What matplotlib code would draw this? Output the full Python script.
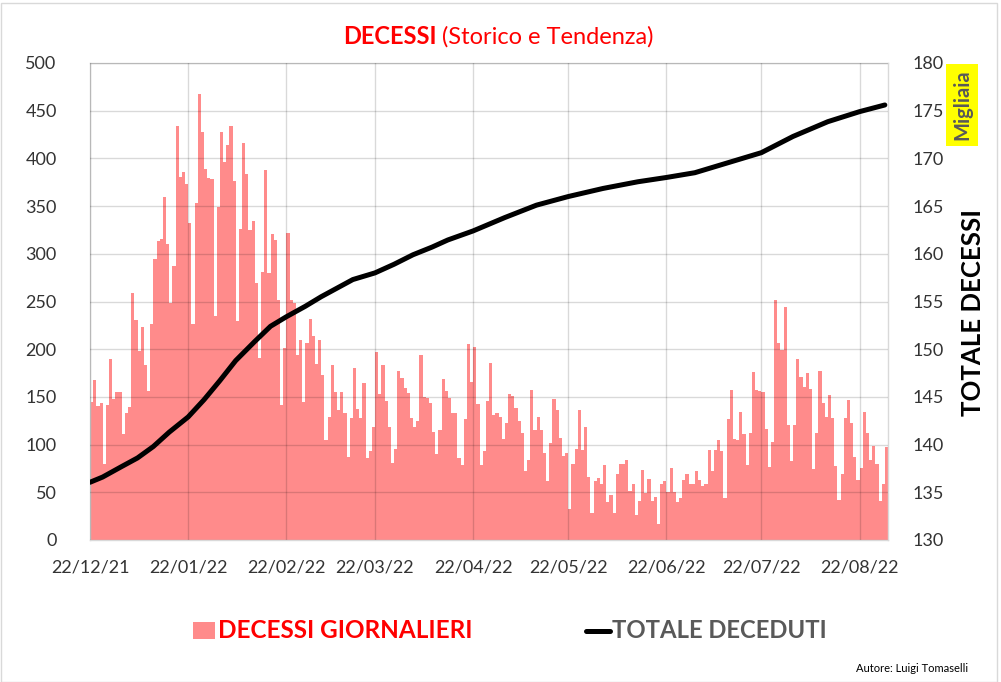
import matplotlib
matplotlib.use("Agg")
import matplotlib.pyplot as plt
import matplotlib.dates as mdates
import matplotlib.patches as mpatches
from matplotlib.lines import Line2D
import pandas as pd
import numpy as np

# ---------------- data ----------------
start_date = "2021-12-22"

daily_deaths = [
    # 22/12/21 ->
    145, 168, 140, 144, 80, 142, 190, 148, 155, 155, 111, 133, 139, 259, 231, 198, 223, 183, 156, 226,
    295, 313, 316, 360, 310, 248, 287, 434, 381, 386, 373, 332, 226, 353, 468, 428, 389, 379, 378, 235,
    349, 428,
    396, 414, 434, 376, 230, 326, 416, 384, 325, 334, 269, 191, 281, 388, 280, 321, 314, 252, 141, 201,
    322, 252, 248, 194, 210, 145, 207, 232, 214, 185, 210, 173, 105, 129, 183, 155, 136, 155, 133, 87,
    128, 180,
    137, 128, 165, 86, 93, 118, 197, 153, 183, 146, 118, 81, 95, 177, 170, 159, 154, 128, 118, 125,
    194, 150, 149, 144, 113, 90, 115, 169, 156, 149, 133, 133, 86, 79, 127, 205, 166, 202, 143, 79,
    93, 146, 186,
    131, 133, 129, 106, 123, 153, 151, 138, 125, 112, 72, 84, 157, 115, 129, 115, 91, 62, 102, 148,
    136, 107, 88, 91, 33, 80, 95, 136, 94, 118, 66, 28, 62, 65, 59, 79, 40, 47, 28, 69, 80,
    80, 84, 51, 59, 26, 41, 73, 49, 64, 41, 45, 17, 59, 62, 50, 75, 50, 40, 44, 63,
    69, 59, 59, 72, 63, 57, 59, 94, 72, 94, 105, 93, 44, 127, 157, 106, 105, 134, 111, 79,
    112, 176, 157,
    156, 155, 116, 77, 103, 252, 207, 199, 244, 121, 83, 121, 190, 171, 160, 175, 158, 74, 112, 177,
    144, 129, 152, 128, 78, 42, 69, 128, 147, 123, 87, 63, 75, 134, 112, 84, 99, 80, 41, 59, 97,
]

# cumulative total (thousands)
total_dates = [
    "2021-12-22", "2021-12-26", "2022-01-01", "2022-01-06", "2022-01-11", "2022-01-16", "2022-01-22",
    "2022-01-27", "2022-02-01", "2022-02-06", "2022-02-12", "2022-02-17", "2022-02-22", "2022-02-28",
    "2022-03-05", "2022-03-10", "2022-03-15", "2022-03-22", "2022-03-28", "2022-04-03", "2022-04-09",
    "2022-04-14", "2022-04-22", "2022-05-02", "2022-05-12", "2022-05-22", "2022-06-02", "2022-06-13",
    "2022-06-22", "2022-07-01", "2022-07-11", "2022-07-22", "2022-08-01", "2022-08-12", "2022-08-22",
    "2022-08-30",
]
total_values = [
    136.05, 136.6, 137.7, 138.6, 139.8, 141.3, 142.9,
    144.7, 146.7, 148.8, 150.8, 152.4, 153.4, 154.5,
    155.5, 156.4, 157.3, 158.0, 158.9, 159.9, 160.7,
    161.45, 162.4, 163.8, 165.1, 166.0, 166.85, 167.55,
    168.0, 168.5, 169.5, 170.6, 172.3, 173.85, 174.9,
    175.6,
]

tick_dates = ["2021-12-22", "2022-01-22", "2022-02-22", "2022-03-22", "2022-04-22",
              "2022-05-22", "2022-06-22", "2022-07-22", "2022-08-22"]
left_ticks = [0, 50, 100, 150, 200, 250, 300, 350, 400, 450, 500]
right_ticks = [130, 135, 140, 145, 150, 155, 160, 165, 170, 175, 180]

# ---------------- style ----------------
BAR_C = "#FF8B8B"
TXT_C = "#333333"
NARROW = ["Liberation Sans Narrow", "Lato", "DejaVu Sans"]
plt.rcParams["font.family"] = ["Lato", "DejaVu Sans"]

fig = plt.figure(figsize=(10.01, 6.82), dpi=100)
W, H = 1001, 682
L, R, T, B = 90, 888, 63, 540
ax = fig.add_axes([L / W, 1 - B / H, (R - L) / W, (B - T) / H])

dates = pd.date_range(start_date, periods=len(daily_deaths), freq="D")
ax.bar(dates, daily_deaths, width=1.0, align="edge", color=BAR_C, linewidth=0, zorder=1)

x0 = mdates.date2num(pd.Timestamp(start_date))
ax.set_xlim(x0, x0 + len(daily_deaths))
ax.set_ylim(0, 500)
ax.set_yticks(left_ticks)
ax.set_xticks(pd.to_datetime(tick_dates))
ax.xaxis.set_major_formatter(mdates.DateFormatter("%d/%m/%y"))
ax.grid(True, color="black", alpha=0.15, linewidth=1.0)
ax.set_axisbelow(False)
ax.tick_params(axis="both", length=0, labelsize=13, colors=TXT_C)
ax.tick_params(axis="y", pad=24)
ax.tick_params(axis="x", pad=14)
for s in ax.spines.values():
    s.set_color("#D9D9D9")
    s.set_linewidth(1.0)

ax2 = ax.twinx()
ax2.plot(pd.to_datetime(total_dates), total_values, color="black", linewidth=3.6,
         solid_capstyle="round", solid_joinstyle="round")
ax2.set_ylim(130, 180)
ax2.set_yticks(right_ticks)
ax2.tick_params(axis="y", length=0, labelsize=13, colors=TXT_C, pad=18)
for s in ax2.spines.values():
    s.set_visible(False)

# title
fig.text(343 / W, 1 - 37 / H, "DECESSI", color="red", fontsize=17, fontweight="bold",
         ha="left", va="center")
fig.text(436 / W, 1 - 37 / H, " (Storico e Tendenza)", color="red", fontsize=17,
         ha="left", va="center")

# right axis labels
fig.text(973 / W, 1 - 312 / H, "TOTALE DECESSI", rotation=90, fontsize=18.5, fontweight="bold",
         color="black", ha="center", va="center", family=NARROW)
fig.text(962 / W, 1 - 105 / H, "Migliaia", rotation=90, fontsize=14.5, fontweight="bold",
         color="#595959", ha="center", va="center",
         bbox=dict(boxstyle="square,pad=0.3", facecolor="#FFFF00", edgecolor="none"))

# legend
fig.patches.append(mpatches.Rectangle((193 / W, 1 - 639 / H), 22 / W, 17 / H,
                                      transform=fig.transFigure, facecolor=BAR_C,
                                      edgecolor="none"))
fig.text(218 / W, 1 - 631 / H, "DECESSI GIORNALIERI", color="red", fontsize=17.5,
         fontweight="bold", ha="left", va="center", family=NARROW)
fig.lines.append(Line2D([586 / W, 610 / W], [1 - 631 / H, 1 - 631 / H],
                        transform=fig.transFigure, color="black", linewidth=3.6,
                        solid_capstyle="round"))
fig.text(612 / W, 1 - 631 / H, "TOTALE DECEDUTI", color="#595959", fontsize=17.2,
         fontweight="bold", ha="left", va="center", family=NARROW)

fig.text(968 / W, 1 - 668 / H, "Autore: Luigi Tomaselli", color="black", fontsize=8,
         ha="right", va="center")

# outer chart border
fig.patches.append(mpatches.Rectangle((0.5 / W, 0.5 / H), (W - 5) / W, (H - 3) / H,
                                      transform=fig.transFigure, facecolor="none",
                                      edgecolor="#D9D9D9", linewidth=1.0))

fig.savefig("out.png", dpi=100)
